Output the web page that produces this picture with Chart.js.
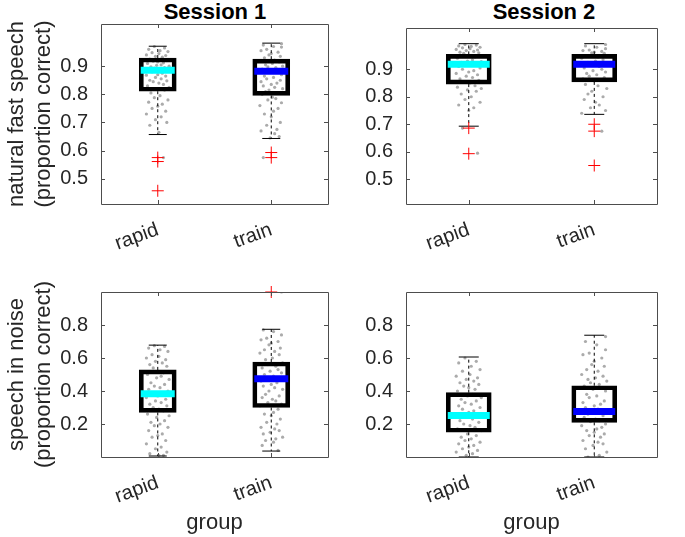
<!DOCTYPE html>
<html>
<head>
<meta charset="utf-8">
<script src="https://cdn.jsdelivr.net/npm/chart.js@4.4.1/dist/chart.umd.min.js"></script>
<style>
  body { margin: 0; background: #fff; width: 685px; height: 537px; position: relative; overflow: hidden; font-family: "Liberation Sans", Arial, sans-serif; }
  canvas { position: absolute; left: 0; top: 0; }
  .ttl { position: absolute; top: 0; font-weight: bold; font-size: 22px; line-height: 24px; color: #000; transform: translateX(-50%); white-space: nowrap; }
</style>
</head>
<body>
<div class="ttl" style="left:215px">Session 1</div>
<div class="ttl" style="left:544px">Session 2</div>
<canvas id="p1" width="685" height="537"></canvas>
<canvas id="p2" width="685" height="537"></canvas>
<canvas id="p3" width="685" height="537"></canvas>
<canvas id="p4" width="685" height="537"></canvas>
<script>
const groups = ['rapid', 'train'];
const fastTicks = [0.5, 0.6, 0.7, 0.8, 0.9];
const noiseTicks = [0.2, 0.4, 0.6, 0.8];

// box stats per group: [low whisker, q1, median, q3, high whisker]
const s1FastBox = [[0.657, 0.811, 0.886, 0.929, 0.971], [0.643, 0.796, 0.882, 0.925, 0.982]];
const s2FastBox = [[0.693, 0.846, 0.918, 0.954, 0.993], [0.736, 0.854, 0.918, 0.954, 0.993]];
const s1NoiseBox = [[0.006, 0.27, 0.384, 0.528, 0.678], [0.036, 0.30, 0.474, 0.576, 0.774]];
const s2NoiseBox = [[0.0, 0.15, 0.252, 0.39, 0.606], [0.0, 0.21, 0.276, 0.432, 0.738]];

const s1FastOut = [[0.575, 0.561, 0.457], [0.593, 0.575]];
const s2FastOut = [[0.686, 0.593], [0.70, 0.675, 0.55]];
const s1NoiseOut = [[], [1.0]];
const s2NoiseOut = [[], []];

// individual listeners (gray dots)
const s1FastRapid = [0.97,0.965,0.96,0.955,0.952,0.948,0.945,0.94,0.938,0.935,0.932,0.925,0.92,0.918,0.915,0.912,0.91,0.905,0.903,0.9,0.898,0.895,0.893,0.89,0.888,0.885,0.88,0.875,0.87,0.868,0.865,0.86,0.855,0.85,0.848,0.845,0.84,0.835,0.83,0.825,0.82,0.815,0.805,0.795,0.788,0.78,0.772,0.765,0.758,0.75,0.74,0.73,0.72,0.71,0.70,0.69,0.665,0.575];
const s1FastTrain = [0.98,0.975,0.97,0.968,0.96,0.955,0.95,0.945,0.94,0.935,0.93,0.922,0.918,0.915,0.91,0.905,0.9,0.898,0.895,0.89,0.887,0.878,0.87,0.865,0.86,0.855,0.85,0.845,0.84,0.835,0.83,0.825,0.82,0.815,0.81,0.805,0.80,0.79,0.785,0.78,0.77,0.76,0.75,0.74,0.73,0.72,0.70,0.69,0.675,0.67,0.66,0.65,0.645,0.575];
const s2FastRapid = [0.99,0.988,0.985,0.983,0.98,0.978,0.975,0.972,0.97,0.968,0.965,0.962,0.96,0.958,0.95,0.945,0.94,0.935,0.93,0.928,0.925,0.922,0.92,0.915,0.91,0.905,0.9,0.895,0.89,0.885,0.88,0.875,0.87,0.865,0.86,0.855,0.85,0.84,0.835,0.83,0.825,0.82,0.81,0.80,0.79,0.78,0.77,0.76,0.75,0.686,0.595];
const s2FastTrain = [0.99,0.985,0.98,0.975,0.97,0.968,0.965,0.962,0.96,0.958,0.95,0.945,0.94,0.935,0.93,0.925,0.92,0.915,0.91,0.905,0.9,0.895,0.89,0.885,0.88,0.875,0.87,0.865,0.86,0.858,0.845,0.84,0.83,0.82,0.81,0.80,0.79,0.78,0.77,0.76,0.75,0.74,0.675];
const s1NoiseRapid = [0.675,0.67,0.66,0.65,0.64,0.62,0.61,0.60,0.59,0.58,0.57,0.56,0.55,0.54,0.52,0.51,0.50,0.49,0.48,0.47,0.45,0.44,0.43,0.42,0.41,0.40,0.39,0.38,0.37,0.36,0.35,0.34,0.33,0.32,0.31,0.30,0.29,0.28,0.26,0.25,0.24,0.22,0.21,0.20,0.19,0.18,0.16,0.14,0.13,0.12,0.10,0.08,0.06,0.05,0.03,0.02,0.01,0.01];
const s1NoiseTrain = [1.0,0.77,0.76,0.74,0.72,0.71,0.70,0.69,0.68,0.66,0.65,0.64,0.63,0.62,0.60,0.59,0.57,0.56,0.55,0.54,0.53,0.52,0.51,0.50,0.49,0.48,0.47,0.46,0.45,0.44,0.43,0.42,0.41,0.40,0.38,0.37,0.36,0.35,0.34,0.33,0.32,0.31,0.29,0.27,0.26,0.25,0.23,0.21,0.20,0.18,0.17,0.16,0.15,0.14,0.12,0.11,0.10,0.09,0.07,0.04];
const s2NoiseRapid = [0.60,0.58,0.57,0.55,0.53,0.52,0.50,0.49,0.48,0.47,0.46,0.45,0.44,0.43,0.42,0.41,0.40,0.38,0.37,0.36,0.35,0.34,0.33,0.32,0.31,0.30,0.29,0.28,0.27,0.26,0.245,0.24,0.23,0.22,0.21,0.20,0.19,0.18,0.17,0.16,0.14,0.13,0.12,0.11,0.10,0.09,0.08,0.07,0.06,0.05,0.04,0.03,0.02,0.01];
const s2NoiseTrain = [0.73,0.70,0.68,0.65,0.63,0.62,0.60,0.58,0.56,0.55,0.53,0.52,0.50,0.49,0.48,0.47,0.46,0.45,0.44,0.43,0.42,0.41,0.40,0.38,0.37,0.36,0.34,0.33,0.32,0.31,0.30,0.29,0.28,0.27,0.26,0.25,0.24,0.23,0.22,0.215,0.20,0.19,0.18,0.17,0.16,0.15,0.14,0.13,0.12,0.10,0.09,0.08,0.07,0.05,0.03,0.01,0.0];

// horizontal scatter of the dots around each group (in group units)
const jitterA = [-0.03,0.06,-0.08,0.02,0.09,-0.05,0.01,-0.1,0.07,-0.02,0.04,-0.07,0.08,-0.04,0.0,0.05,-0.09,0.03,-0.01,0.1,-0.06,0.06,-0.03,0.02,-0.08,0.09,-0.05,0.04,0.0,-0.1,0.07,-0.02,0.03,-0.07,0.08,-0.04,0.01,0.05,-0.09,0.1,-0.01,0.06,-0.06,0.02,-0.03,0.09,-0.08,0.04,0.0,-0.05,0.07,-0.1,0.03,-0.02,0.08,-0.07,0.01,0.05,-0.04,0.06];
const jitterB = [0.09,-0.07,0.02,0.09,-0.04,-0.09,0.06,0.0,-0.02,0.08,-0.06,0.03,-0.1,0.07,0.01,-0.05,0.1,-0.03,0.04,-0.08,0.06,-0.01,0.09,-0.06,0.02,-0.04,0.08,-0.09,0.05,0.0,-0.07,0.03,0.1,-0.02,-0.05,0.07,-0.08,0.01,0.04,-0.03,0.09,-0.1,0.06,0.02,-0.06,0.0,0.08,-0.04,0.05,-0.09,0.03,0.07,-0.01,-0.07,0.1,0.04,-0.05,0.02,-0.08,0.06];

const TXT = '#262626';
const FONT = '"Liberation Sans", Arial, sans-serif';

// draws the axes box and inward tick marks
const framePlugin = {
    id: 'frame',
    afterDraw(chart) {
        const { ctx, chartArea: a, scales } = chart;
        ctx.save();
        ctx.strokeStyle = '#4d4d4d';
        ctx.lineWidth = 1;
        ctx.beginPath();
        ctx.rect(Math.round(a.left) + 0.5, Math.round(a.top) + 0.5, Math.round(a.right - a.left), Math.round(a.bottom - a.top));
        scales.y.ticks.forEach(t => {
            const y = Math.round(scales.y.getPixelForValue(t.value)) + 0.5;
            ctx.moveTo(a.left, y); ctx.lineTo(a.left + 4, y);
            ctx.moveTo(a.right, y); ctx.lineTo(a.right - 4, y);
        });
        scales.x.ticks.forEach(t => {
            const x = Math.round(scales.x.getPixelForValue(t.value)) + 0.5;
            ctx.moveTo(x, a.bottom); ctx.lineTo(x, a.bottom - 4);
            ctx.moveTo(x, a.top); ctx.lineTo(x, a.top + 4);
        });
        ctx.stroke();
        ctx.restore();
    }
};

function makePanel(id, area, yW, xH, yTicks, yMin, yMax, box, out, dotsR, dotsT, yTitle, xTitle) {
    const bw = area.right - area.left;
    const unit = bw / 2;
    const boxW = Math.round(unit * 0.325);
    const dots = dotsR.map((y, i) => ({ x: 1 + jitterA[i], y }))
        .concat(dotsT.map((y, i) => ({ x: 2 + jitterB[i], y })));
    const boxes = box.map((b, i) => ({ x: i + 1, y: [b[1], b[3]] }));
    const whiskers = [];
    box.forEach((b, i) => {
        whiskers.push({ x: i + 1, y: b[3] }, { x: i + 1, y: b[4] }, { x: i + 1, y: null });
        whiskers.push({ x: i + 1, y: b[1] }, { x: i + 1, y: b[0] }, { x: i + 1, y: null });
    });
    const caps = [];
    box.forEach((b, i) => caps.push({ x: i + 1, y: b[0] }, { x: i + 1, y: b[4] }));
    const medians = box.map((b, i) => ({ x: i + 1, y: b[2] }));
    const outliers = [];
    out.forEach((list, i) => list.forEach(v => outliers.push({ x: i + 1, y: v })));

    new Chart(document.getElementById(id), {
        type: 'scatter',
        data: {
            datasets: [
                { type: 'scatter', data: dots, order: 6, pointRadius: 1.6, pointBackgroundColor: '#ababab', pointBorderWidth: 0 },
                { type: 'line', data: whiskers, order: 5, borderColor: '#000', borderWidth: 1, borderDash: [3, 3], pointRadius: 0, spanGaps: false, clip: false },
                { type: 'scatter', data: caps, order: 4, pointStyle: 'line', pointRadius: Math.round(unit * 0.075), pointBorderColor: '#000', pointBorderWidth: 1, clip: false },
                { type: 'bar', data: boxes, order: 3, backgroundColor: 'rgba(0,0,0,0)', borderColor: '#000', borderWidth: 4, borderSkipped: false, barThickness: boxW },
                { type: 'scatter', data: outliers, order: 2, pointStyle: 'cross', pointRadius: 6, pointBorderColor: '#ff0000', pointBorderWidth: 1, clip: false },
                { type: 'scatter', data: medians, order: 1, pointStyle: 'line', pointRadius: boxW / 2 - 1.5, pointBorderColor: ['#00ffff', '#0000ff'], pointBorderWidth: 7 }
            ]
        },
        options: {
            responsive: false,
            animation: false,
            events: [],
            layout: { padding: { left: area.left - yW, top: area.top, right: 685 - area.right, bottom: 537 - area.bottom - xH } },
            plugins: { legend: { display: false }, tooltip: { enabled: false } },
            scales: {
                x: {
                    type: 'linear', min: 0.5, max: 2.5, offset: false,
                    grid: { display: false }, border: { display: false },
                    afterBuildTicks: s => { s.ticks = groups.map((g, i) => ({ value: i + 1 })); },
                    afterFit: s => { s.height = xH; },
                    ticks: {
                        callback: v => groups[v - 1], minRotation: 20, maxRotation: 20,
                        color: TXT, font: { family: FONT, size: 20 }, padding: 6, labelOffset: 0
                    },
                    title: xTitle ? { display: true, text: xTitle, color: TXT, font: { family: FONT, size: 22 }, padding: { top: 0, bottom: 1 } } : { display: false }
                },
                y: {
                    type: 'linear', min: yMin, max: yMax,
                    grid: { display: false }, border: { display: false },
                    afterBuildTicks: s => { s.ticks = yTicks.map(v => ({ value: v })); },
                    afterFit: s => { s.width = yW; },
                    ticks: { callback: v => v.toFixed(1), color: TXT, font: { family: FONT, size: 20 }, padding: 5 },
                    title: yTitle ? { display: true, text: yTitle, color: TXT, font: { family: FONT, size: 22 }, padding: { top: 4, bottom: 0 } } : { display: false }
                }
            }
        },
        plugins: [framePlugin]
    });
}

makePanel('p1', { left: 101, top: 24, right: 328, bottom: 204 }, 101, 60, fastTicks, 0.41, 1.05, s1FastBox, s1FastOut, s1FastRapid, s1FastTrain, ['natural fast speech', '(proportion correct)'], null);
makePanel('p2', { left: 406, top: 24, right: 682, bottom: 204 }, 60, 60, fastTicks, 0.41, 1.05, s2FastBox, s2FastOut, s2FastRapid, s2FastTrain, null, null);
makePanel('p3', { left: 101, top: 292, right: 328, bottom: 457 }, 101, 80, noiseTicks, 0, 1, s1NoiseBox, s1NoiseOut, s1NoiseRapid, s1NoiseTrain, ['speech in noise', '(proportion correct)'], 'group');
makePanel('p4', { left: 406, top: 292, right: 682, bottom: 457 }, 60, 80, noiseTicks, 0, 1, s2NoiseBox, s2NoiseOut, s2NoiseRapid, s2NoiseTrain, null, 'group');
</script>
</body>
</html>
